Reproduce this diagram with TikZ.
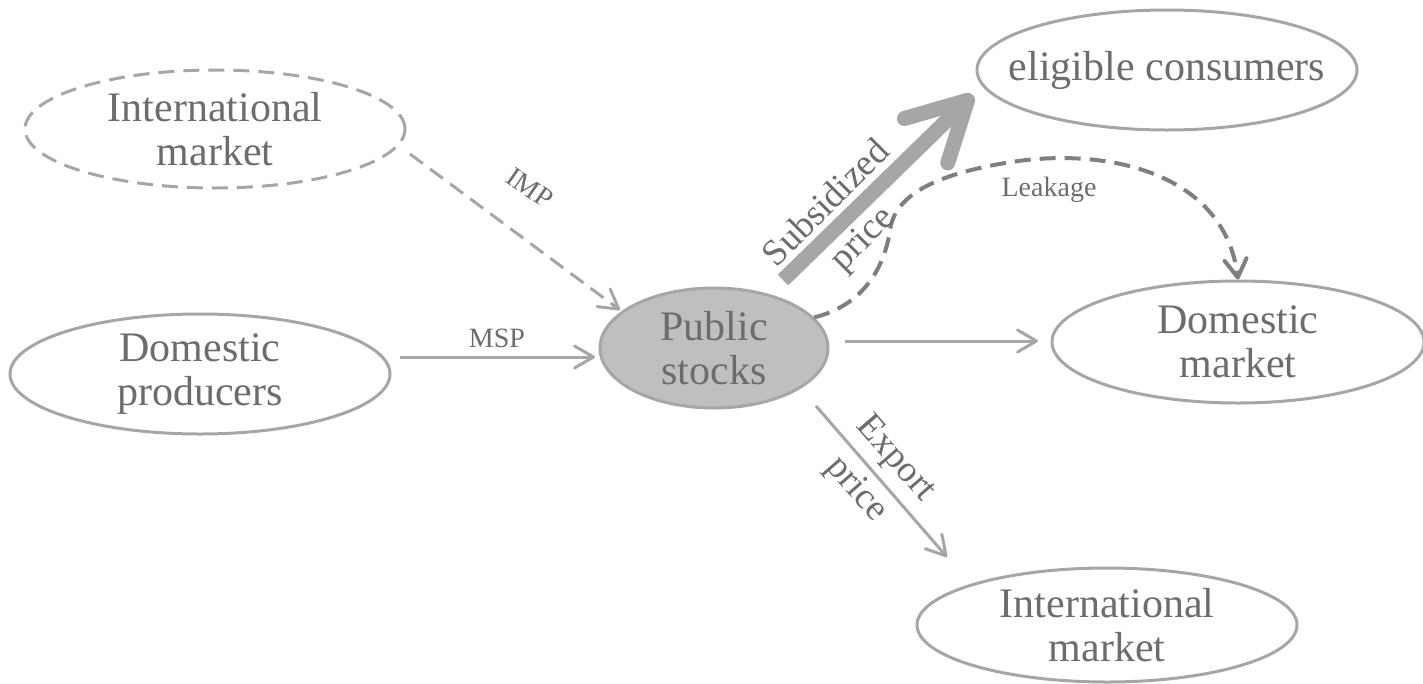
\documentclass[tikz,border=0pt]{standalone}
\usepackage{fontspec}
\setmainfont{Liberation Serif}
\usetikzlibrary{shapes.geometric,arrows.meta}
\definecolor{linegray}{HTML}{A6A6A6}
\definecolor{textgray}{HTML}{6C6C6C}
\definecolor{fillgray}{HTML}{BFBFBF}
\definecolor{darkline}{HTML}{7F7F7F}
\begin{document}
\begin{tikzpicture}[x=1pt,y=-1pt,
  box/.style={ellipse, draw=linegray, line width=3pt, inner xsep=-60pt, inner ysep=-12pt,
    align=center, text=textgray, font=\fontsize{42}{44}\selectfont},
  lbl/.style={text=textgray, font=\fontsize{28}{30}\selectfont, inner sep=0pt},
  albl/.style={text=textgray, font=\fontsize{37}{40}\selectfont, inner sep=0pt},
  conn/.style={draw=linegray, line width=3pt, -{Straight Barb[length=19pt,width=22pt,round]}},
  dashes/.style={dash pattern=on 16pt off 9pt}
]
\useasboundingbox (0,0) rectangle (1423,683);
% nodes
\node[box, dashes, minimum width=380pt, minimum height=118pt] (imt) at (215,129) {International\\market};
\node[box, minimum width=380pt, minimum height=120pt] (dp) at (200,374) {Domestic\\producers};
\node[box, fill=fillgray, minimum width=228pt, minimum height=120pt] (ps) at (714,348) {Public\\stocks};
\node[box, minimum width=380pt, minimum height=120pt] (ec) at (1167,70) {eligible consumers};
\node[box, minimum width=372pt, minimum height=122pt] (dm) at (1238,342) {Domestic\\market};
\node[box, minimum width=380pt, minimum height=114pt] (imb) at (1107,625) {International\\market};
% connector end points
\coordinate (impA) at (410,154);
\coordinate (impB) at (620,310);
\coordinate (mspA) at (400,357);
\coordinate (mspB) at (595,357);
\coordinate (subA) at (783,280);
\coordinate (subB) at (973,95);
\coordinate (domA) at (845,341);
\coordinate (domB) at (1038,341);
\coordinate (expA) at (816,406);
\coordinate (expB) at (947,557);
% connectors
\draw[conn, dashes] (impA) -- (impB);
\draw[conn] (mspA) -- (mspB);
\draw[draw=linegray, line width=15pt, -{Straight Barb[length=58pt,width=62pt,round]}] (subA) -- (subB);
\draw[conn] (domA) -- (domB);
\draw[conn] (expA) -- (expB);
\draw[draw=darkline, line width=4pt, dashes, -{Straight Barb[length=18pt,width=22pt,round]}]
  (ps.17) .. controls (865,305) and (885,265) .. (890,230)
  .. controls (895,195) and (935,175) .. (1005,163)
  .. controls (1110,145) and (1225,175) .. (dm.north);
% labels
\node[lbl] (lmsp) at (497,338) {MSP};
\node[lbl, rotate=-35] (limp) at (530,188) {IMP};
\node[lbl] (lleak) at (1049,190) {Leakage};
\node[albl, rotate=45] (lsub) at (825,202) {Subsidized};
\node[albl, rotate=45] (lsubp) at (864,240) {price};
\node[albl, rotate=-49] (lexp) at (895,459) {Export};
\node[albl, rotate=-49] (lexpp) at (856,490) {price};
\end{tikzpicture}
\end{document}
